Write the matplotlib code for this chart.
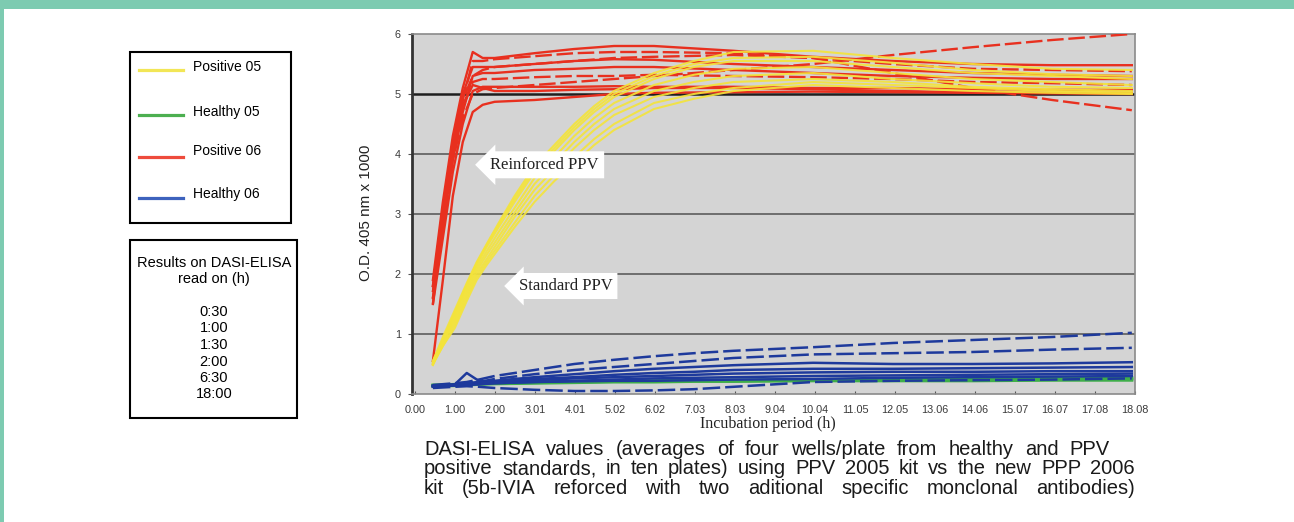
import matplotlib
matplotlib.use("Agg")
import matplotlib.pyplot as plt
from matplotlib.patches import Rectangle
from matplotlib.lines import Line2D
import matplotlib.transforms as mtransforms

W, H = 1294, 522

# ---- data ----
tick_labels = ["0.00", "1.00", "2.00", "3.01", "4.01", "5.02", "6.02", "7.03", "8.03",
               "9.04", "10.04", "11.05", "12.05", "13.06", "14.06", "15.07", "16.07",
               "17.08", "18.08"]

hours_red = [0.45, 0.7, 0.95, 1.2, 1.45, 1.7, 2, 3, 4, 5, 6, 8, 10, 12, 14, 16, 18]
positive_06 = [
    [1.9, 3.2, 4.3, 5.1, 5.7, 5.6, 5.6, 5.68, 5.75, 5.8, 5.8, 5.72, 5.62, 5.55, 5.5, 5.48, 5.48],
    [1.7, 3.0, 4.1, 4.9, 5.55, 5.55, 5.58, 5.63, 5.68, 5.7, 5.7, 5.68, 5.6, 5.5, 5.42, 5.4, 5.38],
    [1.8, 3.1, 4.2, 5.0, 5.45, 5.45, 5.45, 5.5, 5.55, 5.58, 5.57, 5.5, 5.45, 5.4, 5.35, 5.32, 5.3],
    [1.6, 2.8, 3.9, 4.7, 5.3, 5.35, 5.35, 5.4, 5.42, 5.45, 5.45, 5.4, 5.35, 5.3, 5.27, 5.25, 5.25],
    [1.7, 2.9, 4.0, 4.8, 5.2, 5.25, 5.25, 5.28, 5.3, 5.3, 5.32, 5.3, 5.28, 5.25, 5.2, 5.18, 5.15],
    [1.5, 2.6, 3.7, 4.5, 5.05, 5.12, 5.12, 5.12, 5.12, 5.13, 5.12, 5.12, 5.1, 5.1, 5.08, 5.07, 5.07],
    [1.6, 2.8, 3.9, 4.6, 5.0, 5.08, 5.1, 5.15, 5.2, 5.25, 5.3, 5.4, 5.5, 5.65, 5.78, 5.9, 6.0],
    [1.5, 2.9, 4.0, 4.9, 5.3, 5.4, 5.45, 5.5, 5.55, 5.6, 5.62, 5.65, 5.6, 5.35, 5.1, 4.9, 4.73],
    [0.55, 1.9, 3.3, 4.2, 4.7, 4.82, 4.87, 4.9, 4.95, 5.0, 5.02, 5.03, 5.04, 5.03, 5.02, 5.01, 5.0],
    [1.8, 3.0, 4.1, 4.8, 5.15, 5.1, 5.05, 5.05, 5.07, 5.08, 5.1, 5.1, 5.08, 5.05, 5.03, 5.02, 5.02],
]
red_dashed = [False, True, False, False, True, False, True, True, False, False]

hours_yellow = [0.45, 0.7, 1.0, 1.3, 1.55, 1.8, 2.1, 2.5, 3, 3.5, 4, 4.5, 5, 6, 7, 8, 10, 12, 14, 16, 18]
positive_05 = [
    [0.55, 0.95, 1.4, 1.85, 2.2, 2.5, 2.85, 3.3, 3.8, 4.15, 4.5, 4.8, 5.05, 5.35, 5.55, 5.7, 5.72, 5.6, 5.5, 5.42, 5.4],
    [0.5, 0.9, 1.35, 1.8, 2.15, 2.45, 2.78, 3.2, 3.7, 4.05, 4.4, 4.7, 4.95, 5.25, 5.45, 5.55, 5.55, 5.45, 5.35, 5.3, 5.25],
    [0.5, 0.85, 1.3, 1.75, 2.1, 2.38, 2.7, 3.1, 3.6, 3.95, 4.3, 4.6, 4.85, 5.15, 5.32, 5.42, 5.45, 5.35, 5.25, 5.2, 5.15],
    [0.48, 0.85, 1.25, 1.7, 2.05, 2.32, 2.62, 3.02, 3.5, 3.85, 4.2, 4.5, 4.75, 5.05, 5.2, 5.3, 5.35, 5.25, 5.18, 5.12, 5.1],
    [0.52, 0.85, 1.2, 1.65, 2.0, 2.25, 2.55, 2.95, 3.4, 3.75, 4.1, 4.4, 4.65, 4.95, 5.1, 5.2, 5.25, 5.2, 5.12, 5.08, 5.05],
    [0.5, 0.8, 1.15, 1.6, 1.95, 2.2, 2.48, 2.85, 3.3, 3.65, 3.95, 4.25, 4.5, 4.85, 5.0, 5.1, 5.2, 5.15, 5.1, 5.05, 5.02],
    [0.5, 0.8, 1.1, 1.55, 1.9, 2.15, 2.42, 2.78, 3.2, 3.55, 3.85, 4.15, 4.4, 4.75, 4.92, 5.05, 5.15, 5.1, 5.05, 5.02, 5.0],
    [0.55, 0.9, 1.35, 1.82, 2.18, 2.48, 2.82, 3.25, 3.75, 4.1, 4.45, 4.75, 5.0, 5.3, 5.5, 5.6, 5.62, 5.52, 5.4, 5.33, 5.3],
]

hours_healthy = [0.45, 1, 1.3, 1.6, 2, 3, 4, 5, 6, 7, 8, 10, 12, 14, 16, 18]
healthy_06 = [
    [0.15, 0.18, 0.2, 0.24, 0.3, 0.4, 0.5, 0.57, 0.63, 0.68, 0.72, 0.78, 0.85, 0.9, 0.95, 1.02],
    [0.12, 0.15, 0.18, 0.2, 0.25, 0.33, 0.4, 0.45, 0.5, 0.55, 0.6, 0.66, 0.68, 0.7, 0.74, 0.77],
    [0.13, 0.16, 0.18, 0.2, 0.22, 0.28, 0.33, 0.38, 0.42, 0.45, 0.48, 0.52, 0.5, 0.5, 0.51, 0.53],
    [0.14, 0.15, 0.17, 0.19, 0.21, 0.25, 0.28, 0.32, 0.35, 0.37, 0.4, 0.42, 0.42, 0.43, 0.44, 0.45],
    [0.12, 0.16, 0.35, 0.22, 0.2, 0.23, 0.26, 0.28, 0.3, 0.32, 0.34, 0.36, 0.37, 0.37, 0.38, 0.38],
    [0.13, 0.14, 0.15, 0.16, 0.18, 0.2, 0.22, 0.24, 0.26, 0.27, 0.28, 0.3, 0.31, 0.32, 0.33, 0.34],
    [0.1, 0.12, 0.13, 0.12, 0.1, 0.07, 0.05, 0.05, 0.06, 0.08, 0.12, 0.2, 0.22, 0.23, 0.24, 0.26],
    [0.14, 0.15, 0.16, 0.17, 0.18, 0.2, 0.21, 0.22, 0.22, 0.23, 0.24, 0.25, 0.27, 0.28, 0.29, 0.3],
]
blue_dashed = [True, True, False, False, False, False, True, False]
healthy_05 = [
    [0.14, 0.15, 0.16, 0.17, 0.18, 0.19, 0.2, 0.21, 0.21, 0.22, 0.22, 0.23, 0.23, 0.24, 0.24, 0.25],
    [0.13, 0.14, 0.15, 0.16, 0.17, 0.18, 0.19, 0.2, 0.2, 0.21, 0.21, 0.22, 0.22, 0.22, 0.23, 0.23],
    [0.15, 0.16, 0.17, 0.18, 0.19, 0.2, 0.21, 0.22, 0.22, 0.23, 0.23, 0.24, 0.25, 0.25, 0.26, 0.27],
]

legend_labels = ["Positive 05", "Healthy 05", "Positive 06", "Healthy 06"]
legend_colors = ["#f2e656", "#4caf50", "#ee4b3c", "#3d62bd"]
read_times = ["0:30", "1:00", "1:30", "2:00", "6:30", "18:00"]

caption_lines = ["DASI-ELISA values (averages of four wells/plate from healthy and PPV",
                 "positive standards, in ten plates) using PPV 2005 kit vs the new PPP 2006",
                 "kit (5b-IVIA reforced with two aditional specific monclonal antibodies)"]

# ---- figure ----
fig = plt.figure(figsize=(W / 100, H / 100), dpi=100)
fig.patch.set_facecolor("white")

def fx(px):
    return px / W

def fy(py):
    return 1 - py / H

# teal frame
teal = "#7dcbb1"
fig.add_artist(Rectangle((0, fy(9)), 1, 9 / H, transform=fig.transFigure, fc=teal, ec="none"))
fig.add_artist(Rectangle((0, 0), fx(4), 1, transform=fig.transFigure, fc=teal, ec="none"))

ax = fig.add_axes([fx(412), fy(394), fx(1135) - fx(412), fy(34) - fy(394)])
ax.set_facecolor("#d4d4d4")
ax.set_xlim(-0.075, 18.08)
ax.set_ylim(0, 6)

# gridlines
for v in range(1, 6):
    if v == 5:
        ax.axhline(v, color="#1e1e1e", lw=1.8, zorder=1)
    else:
        ax.axhline(v, color="#6e6e6e", lw=1.4, zorder=1)

dash = (0, (7, 2))
for ys in healthy_05:
    ax.plot(hours_healthy, ys, color="#3fae4a", lw=2.2, zorder=2)
for ys, dsh in zip(healthy_06, blue_dashed):
    ax.plot(hours_healthy, ys, color="#1e3a9c", lw=1.8, ls=dash if dsh else "-", zorder=3)

for ys, dsh in zip(positive_06, red_dashed):
    ax.plot(hours_red, ys, color="#e8301f", lw=1.7, ls=dash if dsh else "-", zorder=3)
for ys in positive_05:
    ax.plot(hours_yellow, ys, color="#f4e43a", lw=1.5, alpha=0.9, zorder=4)

# axes styling
tick_pos = [i * 18.08 / 18 for i in range(len(tick_labels))]
ax.set_xticks(tick_pos)
ax.set_xticklabels(tick_labels, fontsize=7.8, family="Liberation Sans", color="#3a3a3a")
offset = mtransforms.ScaledTranslation(8 / 100, 0, fig.dpi_scale_trans)
for lab in ax.get_xticklabels():
    lab.set_transform(lab.get_transform() + offset)
ax.tick_params(axis="x", length=2, width=0.8, color="#555555", pad=8, direction="in")
ax.set_yticks(range(0, 7))
ax.set_yticklabels([str(v) for v in range(0, 7)], fontsize=7.8, family="Liberation Sans", color="#3a3a3a")
yoff = mtransforms.ScaledTranslation(0, -6 / 100, fig.dpi_scale_trans)
for lab in ax.get_yticklabels():
    lab.set_transform(lab.get_transform() + yoff)
ax.tick_params(axis="y", length=3, width=0.8, color="#555555", pad=5)
for s in ["top", "right", "bottom"]:
    ax.spines[s].set_color("#8a8a8a")
    ax.spines[s].set_linewidth(1.2)
ax.spines["left"].set_color("#333333")
ax.spines["left"].set_linewidth(2)

ax.set_xlabel("Incubation period (h)", family="Liberation Serif", fontsize=11.5, color="#222222")
ax.xaxis.set_label_coords(fx(768), fy(424), transform=fig.transFigure)
ax.xaxis.label.set_va("center")
ax.set_ylabel("O.D. 405 nm x 1000", family="Liberation Sans", fontsize=11, color="#222222")
ax.yaxis.set_label_coords(fx(366), fy(213), transform=fig.transFigure)
ax.yaxis.label.set_va("center")

# arrow annotations
ax.text(3.25, 3.82, "Reinforced PPV", family="Liberation Serif", fontsize=12, color="#222222",
        ha="center", va="center", zorder=6,
        bbox=dict(boxstyle="larrow,pad=0.33", fc="white", ec="none"))
ax.text(3.78, 1.8, "Standard PPV", family="Liberation Serif", fontsize=12, color="#222222",
        ha="center", va="center", zorder=6,
        bbox=dict(boxstyle="larrow,pad=0.3", fc="white", ec="none"))

# legend box
fig.add_artist(Rectangle((fx(130), fy(223)), fx(291) - fx(130), fy(52) - fy(223),
                         transform=fig.transFigure, fc="white", ec="black", lw=1.5))
line_y = [70, 115, 157, 198]
text_y = [67, 112, 151, 194]
for lab, col, ly, ty in zip(legend_labels, legend_colors, line_y, text_y):
    fig.add_artist(Line2D([fx(139), fx(183)], [fy(ly), fy(ly)], transform=fig.transFigure,
                          color=col, lw=2.3))
    fig.text(fx(193), fy(ty), lab, family="Liberation Sans", fontsize=10, va="center", ha="left")

# read times box
fig.add_artist(Rectangle((fx(130), fy(418)), fx(297) - fx(130), fy(240) - fy(418),
                         transform=fig.transFigure, fc="white", ec="black", lw=1.5))
fig.text(fx(214), fy(263), "Results on DASI-ELISA", family="Liberation Sans", fontsize=10.5,
         ha="center", va="center")
fig.text(fx(214), fy(279), "read on (h)", family="Liberation Sans", fontsize=10.5,
         ha="center", va="center")
for i, t in enumerate(read_times):
    fig.text(fx(214), fy(312 + i * 16.5), t, family="Liberation Sans", fontsize=10.5,
             ha="center", va="center")

# caption, word-justified to the widths seen in the reference
renderer = fig.canvas.get_renderer()
base_y = [455, 474.5, 494]
right_px = [1110, 1135, 1135]
cap_fs = 14.5
for line, by, rx in zip(caption_lines, base_y, right_px):
    words = line.split(" ")
    arts = [fig.text(0, fy(by), w, family="Liberation Sans", fontsize=cap_fs,
                     color="#1a1a1a", ha="left", va="baseline") for w in words]
    widths = [a.get_window_extent(renderer).width for a in arts]
    gap = (rx - 424 - sum(widths)) / (len(words) - 1)
    x = 424
    for a, wd in zip(arts, widths):
        a.set_x(fx(x))
        x += wd + gap

fig.savefig("out.png", dpi=100)
